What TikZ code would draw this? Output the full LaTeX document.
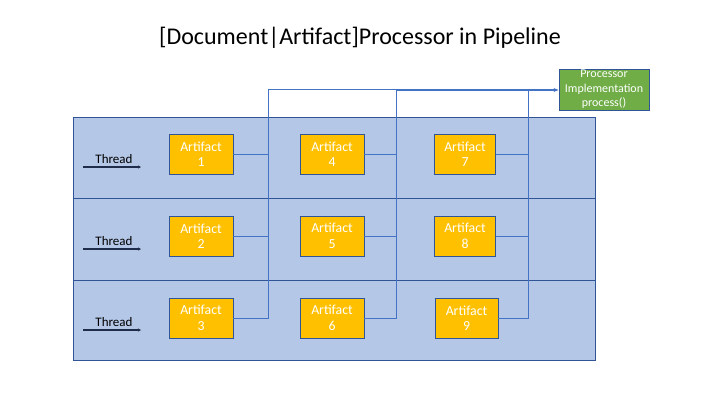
\documentclass[tikz,border=0pt]{standalone}
\usepackage{fontspec}
\setmainfont{Carlito}
\usetikzlibrary{arrows.meta}
\definecolor{panelfill}{HTML}{B4C7E7}
\definecolor{panelline}{HTML}{2F5597}
\definecolor{artfill}{HTML}{FFC000}
\definecolor{wire}{HTML}{4472C4}
\definecolor{procfill}{HTML}{70AD47}
\definecolor{threadc}{HTML}{1F2D4A}
\tikzset{
  panel/.style={draw=panelline, fill=panelfill, line width=0.9pt},
  artbox/.style={draw=panelline, fill=artfill, line width=0.9pt, minimum width=64pt, minimum height=40pt, inner sep=0pt, align=center, text=white, font=\fontsize{13.8}{15.5}\selectfont},
  procbox/.style={draw=panelline, fill=procfill, line width=0.9pt, minimum width=90pt, minimum height=41pt, inner sep=0pt, align=center, text=white, font=\fontsize{12}{14.5}\selectfont},
  wireline/.style={draw=wire, line width=0.9pt},
  threadlbl/.style={font=\fontsize{13}{15}\selectfont, inner sep=0pt},
  threadarrow/.style={draw=threadc, line width=1.4pt, -{Stealth[length=3pt,width=3pt]}},
}
\begin{document}
\begin{tikzpicture}[x=1pt,y=-1pt]
\useasboundingbox (0,0) rectangle (720,405);
\node[font=\fontsize{24}{28}\selectfont] (title) at (360,38) {[Document|Artifact]Processor in Pipeline};
% panel rows
\path[panel] (73,117) rectangle (595,198);
\path[panel] (73,198) rectangle (595,280);
\path[panel] (73,280) rectangle (595,360);
% artifacts
\node[artbox] (a1) at (201,154) {Artifact\\1};
\node[artbox] (a2) at (201,236) {Artifact\\2};
\node[artbox] (a3) at (201,318) {Artifact\\3};
\node[artbox] (a4) at (332,154) {Artifact\\4};
\node[artbox] (a5) at (332,236) {Artifact\\5};
\node[artbox] (a6) at (332,318) {Artifact\\6};
\node[artbox, minimum width=61pt] (a7) at (465,154) {Artifact\\7};
\node[artbox, minimum width=61pt] (a8) at (465,236) {Artifact\\8};
\node[artbox, minimum width=63pt] (a9) at (466.5,318) {Artifact\\9};
% processor
\node[procbox] (proc) at (604,89.5) {Processor\\Implementation\\process()};
% wiring
\coordinate (c1) at (268,89);
\coordinate (c2) at (396,90);
\coordinate (c3) at (528,90);
\draw[wireline] (a1.east) -| (c1);
\draw[wireline] (a2.east) -- (a2.east -| c1);
\draw[wireline] (a3.east) -| (c1) -- (c1 -| c2);
\draw[wireline] (a4.east) -| (c2);
\draw[wireline] (a5.east) -- (a5.east -| c2);
\draw[wireline] (a6.east) -| (c2);
\draw[wireline] (a7.east) -| (c3);
\draw[wireline] (a8.east) -- (a8.east -| c3);
\draw[wireline] (a9.east) -| (c3);
\draw[wireline, line width=1.3pt, -{Stealth[length=5pt,width=4pt]}] (c2) -- (proc.west |- c2);
% threads
\foreach \i/\y in {1/159,2/241,3/322}{
  \node[threadlbl] (t\i) at (114,\y) {Thread};
  \coordinate (ts\i) at (83,\y+8);
  \coordinate (te\i) at (141,\y+8);
  \draw[threadarrow] (ts\i) -- (te\i);
}
\end{tikzpicture}
\end{document}
